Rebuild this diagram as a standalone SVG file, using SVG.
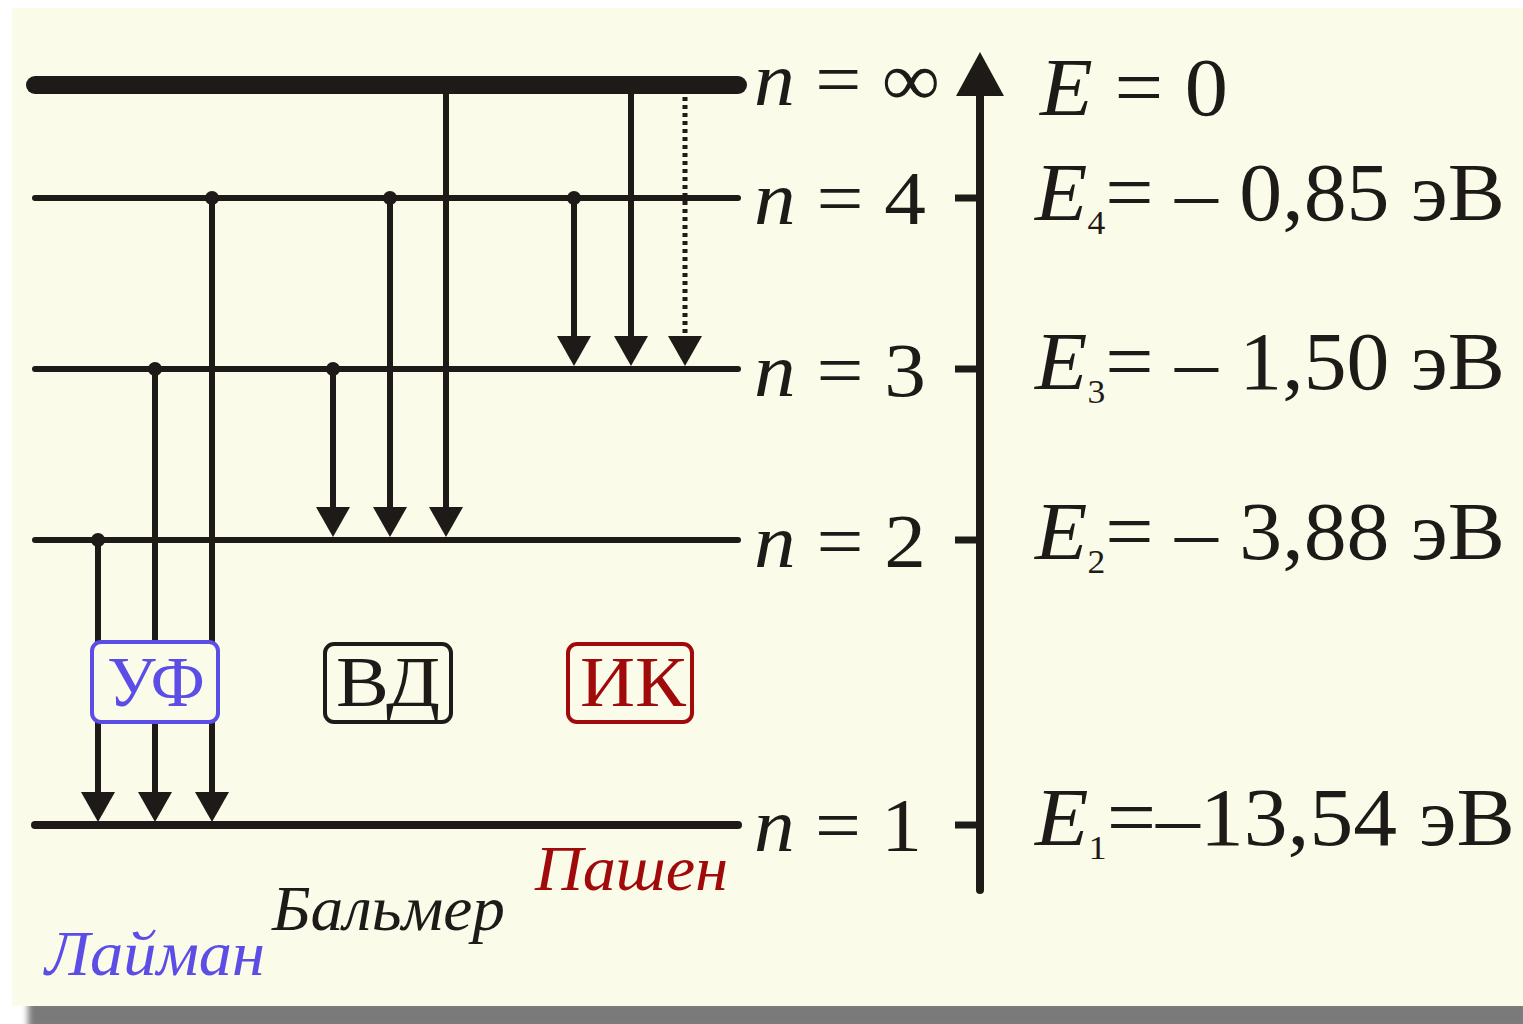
<svg xmlns="http://www.w3.org/2000/svg" width="1523" height="1024" viewBox="0 0 1523 1024">
<defs>
<style>
.lvl{stroke:#1e1a18;stroke-linecap:round;fill:none}
.tr{stroke:#1e1a18;stroke-width:6;fill:none}
.ah{fill:#1e1a18}
.dot{fill:#1e1a18}
text{font-family:"Liberation Serif","Times New Roman",Times,serif;fill:#1e1a18}
.it{font-style:italic}
.box{fill:#fafbe8;stroke-width:4}
</style>
<filter id="blur" x="-5%" y="-50%" width="110%" height="200%"><feGaussianBlur stdDeviation="3"/></filter>
</defs>
<rect width="1523" height="1024" fill="#ffffff"/>
<rect x="28" y="1000" width="1500" height="30" fill="#7a7a7a" filter="url(#blur)"/>
<rect x="12" y="8" width="1511" height="998" fill="#fafbe8"/>

<g id="levels">
<line class="lvl" x1="35" y1="85" x2="738" y2="85" stroke-width="18"/>
<line class="lvl" x1="35" y1="198" x2="738" y2="198" stroke-width="6"/>
<line class="lvl" x1="35" y1="369" x2="738" y2="369" stroke-width="6"/>
<line class="lvl" x1="35" y1="540" x2="738" y2="540" stroke-width="6"/>
<line class="lvl" x1="35" y1="825" x2="738" y2="825" stroke-width="8"/>
</g>

<g id="connectors">
<line class="tr" x1="98" y1="540" x2="98" y2="795"/>
<line class="tr" x1="155" y1="369" x2="155" y2="795"/>
<line class="tr" x1="212" y1="198" x2="212" y2="795"/>
<circle class="dot" cx="98" cy="540" r="7"/>
<circle class="dot" cx="155" cy="369" r="7"/>
<circle class="dot" cx="212" cy="198" r="7"/>
<polygon class="ah" points="81,792 115,792 98,822"/>
<polygon class="ah" points="138,792 172,792 155,822"/>
<polygon class="ah" points="195,792 229,792 212,822"/>
<line class="tr" x1="333" y1="369" x2="333" y2="510"/>
<line class="tr" x1="390" y1="198" x2="390" y2="510"/>
<line class="tr" x1="446" y1="85" x2="446" y2="510"/>
<circle class="dot" cx="333" cy="369" r="7"/>
<circle class="dot" cx="390" cy="198" r="7"/>
<polygon class="ah" points="316,507 350,507 333,537"/>
<polygon class="ah" points="373,507 407,507 390,537"/>
<polygon class="ah" points="429,507 463,507 446,537"/>
<line class="tr" x1="574" y1="198" x2="574" y2="338"/>
<line class="tr" x1="631" y1="85" x2="631" y2="338"/>
<line x1="685" y1="97" x2="685" y2="334" stroke="#1e1a18" stroke-width="5" stroke-dasharray="4,4"/>
<circle class="dot" cx="574" cy="198" r="7"/>
<polygon class="ah" points="557,336 591,336 574,366"/>
<polygon class="ah" points="614,336 648,336 631,366"/>
<polygon class="ah" points="668,336 702,336 685,366"/>
<line x1="980" y1="890" x2="980" y2="92" stroke="#1e1a18" stroke-width="8" stroke-linecap="round"/>
<polygon class="ah" points="980,52 1004,96 956,96"/>
<line x1="955" y1="198" x2="978" y2="198" stroke="#1e1a18" stroke-width="7"/>
<line x1="955" y1="369" x2="978" y2="369" stroke="#1e1a18" stroke-width="7"/>
<line x1="955" y1="540" x2="978" y2="540" stroke="#1e1a18" stroke-width="7"/>
<line x1="955" y1="825" x2="978" y2="825" stroke="#1e1a18" stroke-width="7"/>
</g>

<g id="n-labels" font-size="76">
<text x="754" y="105" textLength="186" lengthAdjust="spacingAndGlyphs"><tspan class="it">n</tspan> = ∞</text>
<text x="754" y="224" textLength="172" lengthAdjust="spacingAndGlyphs"><tspan class="it">n</tspan> = 4</text>
<text x="754" y="396" textLength="172" lengthAdjust="spacingAndGlyphs"><tspan class="it">n</tspan> = 3</text>
<text x="754" y="567" textLength="172" lengthAdjust="spacingAndGlyphs"><tspan class="it">n</tspan> = 2</text>
<text x="754" y="851" textLength="168" lengthAdjust="spacingAndGlyphs"><tspan class="it">n</tspan> = 1</text>
</g>

<g id="e-labels" font-size="82">
<text x="1040" y="115" textLength="188" lengthAdjust="spacingAndGlyphs"><tspan class="it">E</tspan> = 0</text>
<text x="1035" y="220" textLength="470" lengthAdjust="spacingAndGlyphs"><tspan class="it">E</tspan><tspan font-size="34" dy="14">4</tspan><tspan dy="-14">= – 0,85 эВ</tspan></text>
<text x="1035" y="389" textLength="470" lengthAdjust="spacingAndGlyphs"><tspan class="it">E</tspan><tspan font-size="34" dy="14">3</tspan><tspan dy="-14">= – 1,50 эВ</tspan></text>
<text x="1035" y="559" textLength="470" lengthAdjust="spacingAndGlyphs"><tspan class="it">E</tspan><tspan font-size="34" dy="14">2</tspan><tspan dy="-14">= – 3,88 эВ</tspan></text>
<text x="1035" y="845" textLength="480" lengthAdjust="spacingAndGlyphs"><tspan class="it">E</tspan><tspan font-size="34" dy="14">1</tspan><tspan dy="-14">=–13,54 эВ</tspan></text>
</g>

<g id="uv">
<rect class="box" x="92" y="642" width="126" height="80" rx="9" stroke="#5b4de6"/>
<text x="107" y="706" font-size="72" textLength="98" lengthAdjust="spacingAndGlyphs" style="fill:#5b4de6">УФ</text>
</g>
<g id="vis">
<rect class="box" x="325" y="644" width="126" height="78" rx="9" stroke="#1e1a18"/>
<text x="336" y="706" font-size="72" textLength="104" lengthAdjust="spacingAndGlyphs">ВД</text>
</g>
<g id="ir">
<rect class="box" x="568" y="644" width="124" height="78" rx="9" stroke="#a00a0a"/>
<text x="580" y="706" font-size="72" textLength="106" lengthAdjust="spacingAndGlyphs" style="fill:#a00a0a">ИК</text>
</g>

<g id="series" font-size="64">
<text class="it" x="45" y="975" textLength="220" lengthAdjust="spacingAndGlyphs" style="fill:#5b4de6">Лайман</text>
<text class="it" x="272" y="930" textLength="233" lengthAdjust="spacingAndGlyphs">Бальмер</text>
<text class="it" x="535" y="890" textLength="193" lengthAdjust="spacingAndGlyphs" style="fill:#a00a0a">Пашен</text>
</g>
</svg>
